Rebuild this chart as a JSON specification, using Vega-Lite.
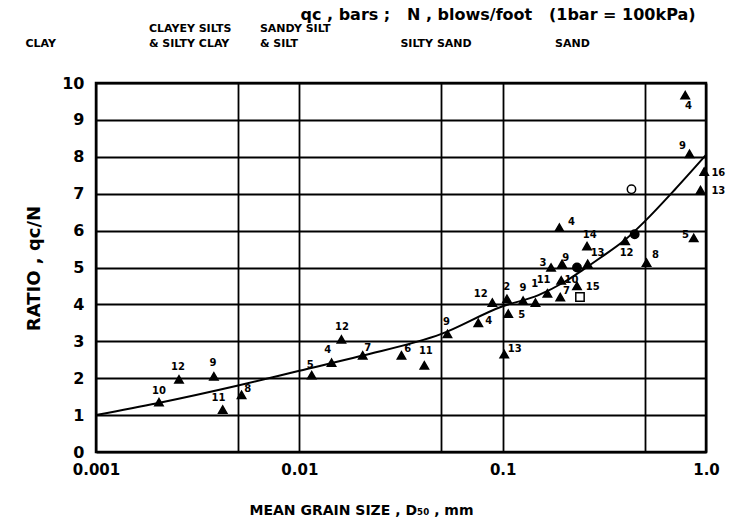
{
  "$schema": "https://vega.github.io/schema/vega-lite/v6.json",
  "width": 610,
  "height": 369,
  "autosize": {"type": "none"},
  "padding": {"left": 96, "top": 83, "right": 23, "bottom": 78},
  "background": "white",
  "config": {
    "font": "DejaVu Sans",
    "view": {"stroke": "black", "strokeWidth": 2.5},
    "axisY": {
      "grid": true,
      "gridColor": "black",
      "gridWidth": 1.8,
      "gridOpacity": 1,
      "ticks": false,
      "domain": false,
      "labelOverlap": false,
      "labelFont": "DejaVu Sans",
      "labelFontWeight": "bold",
      "labelFontSize": 16,
      "labelColor": "black",
      "labelPadding": 12,
      "titleFont": "DejaVu Sans",
      "titleFontSize": 18,
      "titleFontWeight": "bold",
      "titleColor": "black",
      "titleAngle": -90,
      "titleX": -62,
      "titleY": 185,
      "titleAlign": "center",
      "titleBaseline": "middle"
    }
  },
  "title": {
    "text": "qc , bars ;\u00a0\u00a0 N , blows/foot\u00a0\u00a0 (1bar = 100kPa)",
    "frame": "group",
    "anchor": "middle",
    "dx": 97,
    "offset": -13,
    "baseline": "alphabetic",
    "fontSize": 16,
    "fontWeight": "bold",
    "color": "black",
    "font": "DejaVu Sans"
  },
  "datasets": {
    "curve": [
      {"d50": 0.001, "ratio": 1.0},
      {"d50": 0.002, "ratio": 1.32},
      {"d50": 0.005, "ratio": 1.8},
      {"d50": 0.01, "ratio": 2.2},
      {"d50": 0.02, "ratio": 2.6},
      {"d50": 0.05, "ratio": 3.2},
      {"d50": 0.1, "ratio": 3.95},
      {"d50": 0.15, "ratio": 4.25},
      {"d50": 0.2, "ratio": 4.6},
      {"d50": 0.25, "ratio": 4.95},
      {"d50": 0.3, "ratio": 5.25},
      {"d50": 0.4, "ratio": 5.75},
      {"d50": 0.5, "ratio": 6.25},
      {"d50": 0.7, "ratio": 7.1},
      {"d50": 1.0, "ratio": 8.05}
    ],
    "points": [
      {"d50": 0.00204, "ratio": 1.35, "kind": "triangle"},
      {"d50": 0.00256, "ratio": 1.97, "kind": "triangle"},
      {"d50": 0.0038, "ratio": 2.05, "kind": "triangle"},
      {"d50": 0.0042, "ratio": 1.15, "kind": "triangle"},
      {"d50": 0.0052, "ratio": 1.55, "kind": "triangle"},
      {"d50": 0.0115, "ratio": 2.08, "kind": "triangle"},
      {"d50": 0.0144, "ratio": 2.42, "kind": "triangle"},
      {"d50": 0.0161, "ratio": 3.05, "kind": "triangle"},
      {"d50": 0.0205, "ratio": 2.62, "kind": "triangle"},
      {"d50": 0.0318, "ratio": 2.62, "kind": "triangle"},
      {"d50": 0.0412, "ratio": 2.35, "kind": "triangle"},
      {"d50": 0.0535, "ratio": 3.2, "kind": "triangle"},
      {"d50": 0.0759, "ratio": 3.5, "kind": "triangle"},
      {"d50": 0.089, "ratio": 4.05, "kind": "triangle"},
      {"d50": 0.1018, "ratio": 2.65, "kind": "triangle"},
      {"d50": 0.1065, "ratio": 3.75, "kind": "triangle"},
      {"d50": 0.105, "ratio": 4.15, "kind": "triangle"},
      {"d50": 0.126, "ratio": 4.1, "kind": "triangle"},
      {"d50": 0.145, "ratio": 4.05, "kind": "triangle"},
      {"d50": 0.166, "ratio": 4.3, "kind": "triangle"},
      {"d50": 0.173, "ratio": 5.0, "kind": "triangle"},
      {"d50": 0.196, "ratio": 5.1, "kind": "triangle"},
      {"d50": 0.192, "ratio": 4.2, "kind": "triangle"},
      {"d50": 0.194, "ratio": 4.65, "kind": "triangle"},
      {"d50": 0.232, "ratio": 4.5, "kind": "triangle"},
      {"d50": 0.24, "ratio": 4.2, "kind": "open square"},
      {"d50": 0.232, "ratio": 5.0, "kind": "dot"},
      {"d50": 0.262, "ratio": 5.1, "kind": "triangle"},
      {"d50": 0.19, "ratio": 6.08, "kind": "triangle"},
      {"d50": 0.26, "ratio": 5.58, "kind": "triangle"},
      {"d50": 0.4, "ratio": 5.72, "kind": "triangle"},
      {"d50": 0.446, "ratio": 5.9, "kind": "dot"},
      {"d50": 0.51, "ratio": 5.13, "kind": "triangle"},
      {"d50": 0.43, "ratio": 7.12, "kind": "open circle"},
      {"d50": 0.87, "ratio": 5.8, "kind": "triangle"},
      {"d50": 0.94, "ratio": 7.1, "kind": "triangle"},
      {"d50": 0.98, "ratio": 7.6, "kind": "triangle"},
      {"d50": 0.83, "ratio": 8.08, "kind": "triangle"},
      {"d50": 0.79, "ratio": 9.67, "kind": "triangle"}
    ],
    "labels": [
      {"d50": 0.00204, "ratio": 1.66, "label": "10"},
      {"d50": 0.00253, "ratio": 2.3, "label": "12"},
      {"d50": 0.00376, "ratio": 2.4, "label": "9"},
      {"d50": 0.004, "ratio": 1.45, "label": "11"},
      {"d50": 0.00558, "ratio": 1.72, "label": "8"},
      {"d50": 0.0113, "ratio": 2.37, "label": "5"},
      {"d50": 0.0138, "ratio": 2.77, "label": "4"},
      {"d50": 0.0162, "ratio": 3.39, "label": "12"},
      {"d50": 0.0217, "ratio": 2.82, "label": "7"},
      {"d50": 0.0341, "ratio": 2.8, "label": "6"},
      {"d50": 0.0419, "ratio": 2.74, "label": "11"},
      {"d50": 0.053, "ratio": 3.52, "label": "9"},
      {"d50": 0.0853, "ratio": 3.55, "label": "4"},
      {"d50": 0.078, "ratio": 4.27, "label": "12"},
      {"d50": 0.1146, "ratio": 2.8, "label": "13"},
      {"d50": 0.124, "ratio": 3.7, "label": "5"},
      {"d50": 0.1047, "ratio": 4.46, "label": "2"},
      {"d50": 0.126, "ratio": 4.44, "label": "9"},
      {"d50": 0.1436, "ratio": 4.54, "label": "1"},
      {"d50": 0.159, "ratio": 4.65, "label": "11"},
      {"d50": 0.158, "ratio": 5.13, "label": "3"},
      {"d50": 0.204, "ratio": 5.27, "label": "9"},
      {"d50": 0.206, "ratio": 4.35, "label": "7"},
      {"d50": 0.218, "ratio": 4.65, "label": "10"},
      {"d50": 0.277, "ratio": 4.46, "label": "15"},
      {"d50": 0.218, "ratio": 6.24, "label": "4"},
      {"d50": 0.268, "ratio": 5.89, "label": "14"},
      {"d50": 0.293, "ratio": 5.38, "label": "13"},
      {"d50": 0.407, "ratio": 5.38, "label": "12"},
      {"d50": 0.565, "ratio": 5.35, "label": "8"},
      {"d50": 0.793, "ratio": 5.89, "label": "5"},
      {"d50": 1.15, "ratio": 7.07, "label": "13"},
      {"d50": 1.15, "ratio": 7.55, "label": "16"},
      {"d50": 0.767, "ratio": 8.3, "label": "9"},
      {"d50": 0.82, "ratio": 9.38, "label": "4"}
    ],
    "zones": [
      {"d50": 0.00045, "zone": ["", "CLAY"]},
      {"d50": 0.00182, "zone": ["CLAYEY SILTS", "& SILTY CLAY"]},
      {"d50": 0.0064, "zone": ["SANDY SILT", "& SILT"]},
      {"d50": 0.0314, "zone": ["", "SILTY SAND"]},
      {"d50": 0.181, "zone": ["", "SAND"]}
    ]
  },
  "encoding": {
    "x": {
      "field": "d50",
      "type": "quantitative",
      "scale": {"type": "log", "domain": [0.001, 1], "nice": false},
      "axis": {
        "values": [0.001, 0.005, 0.01, 0.05, 0.1, 0.5, 1],
        "grid": true,
        "gridColor": "black",
        "gridWidth": 1.8,
        "gridOpacity": 1,
        "ticks": false,
        "domain": false,
        "labelFlush": false,
        "labelOverlap": false,
        "labelFont": "DejaVu Sans",
        "labelFontWeight": "bold",
        "labelFontSize": 15,
        "labelColor": "black",
        "labelPadding": 10,
        "labelExpr": "datum.value == 1 ? '1.0' : (datum.value == 0.005 || datum.value == 0.05 || datum.value == 0.5) ? '' : datum.label",
        "format": ".3~f",
        "title": "MEAN GRAIN SIZE , D₅₀ , mm",
        "titleFont": "DejaVu Sans",
        "titleFontSize": 14,
        "titleFontWeight": "bold",
        "titleColor": "black",
        "titleX": 265,
        "titleY": 58,
        "titleAlign": "center",
        "titleBaseline": "middle"
      }
    }
  },
  "layer": [
    {
      "data": {"name": "curve"},
      "mark": {"type": "line", "color": "black", "strokeWidth": 2, "interpolate": "monotone"},
      "encoding": {
        "y": {
          "field": "ratio",
          "type": "quantitative",
          "scale": {"domain": [0, 10], "nice": false},
          "axis": {"values": [0, 1, 2, 3, 4, 5, 6, 7, 8, 9, 10], "title": "RATIO\u00a0, qc/N"}
        }
      }
    },
    {
      "data": {"name": "points"},
      "mark": {"type": "point", "filled": true, "stroke": "black", "strokeWidth": 1.5, "size": 70, "opacity": 1},
      "encoding": {
        "y": {
          "field": "ratio",
          "type": "quantitative",
          "axis": {"values": [0, 1, 2, 3, 4, 5, 6, 7, 8, 9, 10], "title": "RATIO\u00a0, qc/N"}
        },
        "shape": {
          "field": "kind",
          "type": "nominal",
          "scale": {"domain": ["triangle", "open circle", "open square", "dot"], "range": ["triangle-up", "circle", "square", "circle"]},
          "legend": null
        },
        "fill": {
          "field": "kind",
          "type": "nominal",
          "scale": {"domain": ["triangle", "open circle", "open square", "dot"], "range": ["black", "white", "white", "black"]},
          "legend": null
        }
      }
    },
    {
      "data": {"name": "labels"},
      "mark": {"type": "text", "font": "DejaVu Sans", "fontSize": 10, "fontWeight": "bold", "color": "black", "align": "center", "baseline": "middle"},
      "encoding": {
        "y": {
          "field": "ratio",
          "type": "quantitative",
          "axis": {"values": [0, 1, 2, 3, 4, 5, 6, 7, 8, 9, 10], "title": "RATIO\u00a0, qc/N"}
        },
        "text": {"field": "label", "type": "nominal"}
      }
    },
    {
      "data": {"name": "zones"},
      "mark": {"type": "text", "font": "DejaVu Sans", "fontSize": 11, "fontWeight": "bold", "color": "black", "align": "left", "baseline": "bottom", "dy": -49, "lineHeight": 15},
      "encoding": {
        "y": {
          "datum": 10,
          "type": "quantitative",
          "axis": {"values": [0, 1, 2, 3, 4, 5, 6, 7, 8, 9, 10], "title": "RATIO\u00a0, qc/N"}
        },
        "text": {"field": "zone", "type": "nominal"}
      }
    }
  ]
}
